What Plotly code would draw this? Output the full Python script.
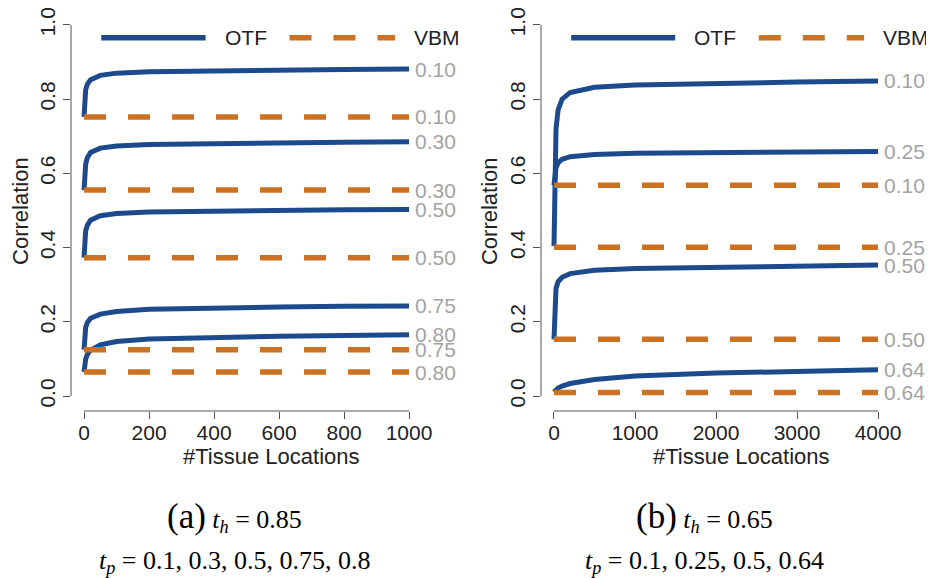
import plotly.graph_objects as go

# ---------------- data ----------------
# Panel (a): t_h = 0.85
x_a = [0, 2, 5, 10, 20, 50, 100, 200, 400, 600, 800, 1000]
tp_a = ["0.10", "0.30", "0.50", "0.75", "0.80"]
otf_a = [
    [0.752, 0.800, 0.825, 0.840, 0.852, 0.864, 0.870, 0.874, 0.877, 0.879, 0.880, 0.881],
    [0.555, 0.600, 0.625, 0.642, 0.656, 0.668, 0.674, 0.678, 0.681, 0.683, 0.684, 0.685],
    [0.373, 0.420, 0.445, 0.460, 0.474, 0.486, 0.492, 0.496, 0.499, 0.501, 0.502, 0.503],
    [0.125, 0.165, 0.185, 0.198, 0.210, 0.221, 0.228, 0.234, 0.238, 0.240, 0.242, 0.243],
    [0.065, 0.085, 0.100, 0.112, 0.124, 0.138, 0.147, 0.154, 0.159, 0.161, 0.163, 0.165],
]
vbm_a = [0.752, 0.555, 0.373, 0.125, 0.065]

# Panel (b): t_h = 0.65
x_b = [0, 10, 25, 50, 100, 200, 500, 1000, 2000, 3000, 4000]
tp_b = ["0.10", "0.25", "0.50", "0.64"]
otf_b = [
    [0.404, 0.620, 0.720, 0.770, 0.800, 0.818, 0.832, 0.838, 0.843, 0.846, 0.849],
    [0.568, 0.600, 0.615, 0.628, 0.638, 0.645, 0.651, 0.654, 0.656, 0.658, 0.659],
    [0.153, 0.260, 0.290, 0.308, 0.320, 0.330, 0.339, 0.344, 0.348, 0.351, 0.353],
    [0.011, 0.014, 0.018, 0.022, 0.027, 0.034, 0.045, 0.054, 0.062, 0.067, 0.071],
]
vbm_b = [0.568, 0.401, 0.153, 0.010]

xticks_a = [0, 200, 400, 600, 800, 1000]
xticks_b = [0, 1000, 2000, 3000, 4000]
yticks = [0.0, 0.2, 0.4, 0.6, 0.8, 1.0]

caption_a = ("(a)", "0.85", "0.1, 0.3, 0.5, 0.75, 0.8")
caption_b = ("(b)", "0.65", "0.1, 0.25, 0.5, 0.64")

# ---------------- style ----------------
BLUE = "#1d4a8c"
ORANGE = "#cc7022"
GRAY = "#a3a3a3"
AXC = "#555555"
TXT = "#222222"
SANS = "Liberation Sans, Arial, sans-serif"
SERIF = "Liberation Serif, Times New Roman, serif"
DASH = "22px,22px"

fig = go.Figure()

panels = [
    dict(x=x_a, otf=otf_a, vbm=vbm_a, tp=tp_a, xa="x", ya="y", xmax=1000),
    dict(x=x_b, otf=otf_b, vbm=vbm_b, tp=tp_b, xa="x2", ya="y2", xmax=4000),
]

annotations = []
shapes = []

for p in panels:
    for ys in p["otf"]:
        fig.add_trace(go.Scatter(x=p["x"], y=ys, mode="lines", xaxis=p["xa"], yaxis=p["ya"],
                                 line=dict(color=BLUE, width=5), showlegend=False, hoverinfo="skip"))
    for v in p["vbm"]:
        fig.add_trace(go.Scatter(x=[0, p["xmax"]], y=[v, v], mode="lines", xaxis=p["xa"], yaxis=p["ya"],
                                 line=dict(color=ORANGE, width=5.5, dash=DASH), showlegend=False, hoverinfo="skip"))
    # right-hand labels
    for lab, ys in zip(p["tp"], p["otf"]):
        annotations.append(dict(x=p["xmax"], y=ys[-1], xref=p["xa"], yref=p["ya"], text=lab, showarrow=False,
                                xanchor="left", xshift=4, font=dict(family=SANS, size=21, color=GRAY)))
    for lab, v in zip(p["tp"], p["vbm"]):
        annotations.append(dict(x=p["xmax"], y=v, xref=p["xa"], yref=p["ya"], text=lab, showarrow=False,
                                xanchor="left", xshift=4, font=dict(family=SANS, size=21, color=GRAY)))
    # axis lines (R style, detached)
    shapes.append(dict(type="line", xref=p["xa"], yref=p["ya"] + " domain",
                       x0=0, x1=p["xmax"], y0=0, y1=0, line=dict(color=AXC, width=1)))
    shapes.append(dict(type="line", xref=p["xa"] + " domain", yref=p["ya"],
                       x0=0, x1=0, y0=0, y1=1, line=dict(color=AXC, width=1)))
    # legend
    s = p["xmax"] / 1000.0
    shapes.append(dict(type="line", xref=p["xa"], yref=p["ya"], x0=53 * s, x1=374 * s, y0=0.965, y1=0.965,
                       line=dict(color=BLUE, width=5.5)))
    shapes.append(dict(type="line", xref=p["xa"], yref=p["ya"], x0=632 * s, x1=957 * s, y0=0.965, y1=0.965,
                       line=dict(color=ORANGE, width=5.5, dash=DASH)))
    annotations.append(dict(x=498 * s, y=0.965, xref=p["xa"], yref=p["ya"], text="OTF", showarrow=False,
                            xanchor="center", font=dict(family=SANS, size=21, color=TXT)))
    annotations.append(dict(x=1010 * s, y=0.965, xref=p["xa"], yref=p["ya"], text="VBM", showarrow=False,
                            xanchor="left", font=dict(family=SANS, size=21, color=TXT)))

# axis titles
for xp in [0.0139, 0.5161]:
    annotations.append(dict(x=xp, y=0.6488, xref="paper", yref="paper", text="Correlation", textangle=-90,
                            xanchor="center", yanchor="middle",
                            showarrow=False, font=dict(family=SANS, size=22, color=TXT)))
for xp in [0.2816, 0.7848]:
    annotations.append(dict(x=xp, y=0.2249, xref="paper", yref="paper", text="#Tissue Locations",
                            xanchor="center", yanchor="middle",
                            showarrow=False, font=dict(family=SANS, size=22, color=TXT)))

# captions
for (lab, th, tp), xc in [(caption_a, 0.2430), (caption_b, 0.7460)]:
    annotations.append(dict(x=xc, y=0.1194, xref="paper", yref="paper", showarrow=False,
                            xanchor="center", yanchor="middle",
                            text=f"<span style='font-size:35px'>{lab}</span> <i>t<sub>h</sub></i> = {th}",
                            font=dict(family=SERIF, size=26, color="#000")))
    annotations.append(dict(x=xc, y=0.0415, xref="paper", yref="paper", showarrow=False,
                            xanchor="center", yanchor="middle",
                            text=f"<i>t<sub>p</sub></i> = {tp}",
                            font=dict(family=SERIF, size=26, color="#000")))

ydom = [0.3028, 0.9965]
common_x = dict(showgrid=False, zeroline=False, showline=False, ticks="outside", ticklen=7, tickcolor=AXC,
                tickfont=dict(family=SANS, size=21, color=TXT), automargin=False, ticklabelstandoff=-4)
common_y = dict(showgrid=False, zeroline=False, showline=False, ticks="outside", ticklen=7, tickcolor=AXC,
                tickfont=dict(family=SANS, size=21, color=TXT), tickangle=-90, tickvals=yticks,
                tickformat=".1f", range=[-0.04, 1.04], automargin=False, domain=ydom,
                ticklabeloverflow="allow")

fig.update_layout(
    width=934, height=578,
    margin=dict(l=0, r=0, t=0, b=0),
    paper_bgcolor="white", plot_bgcolor="white",
    showlegend=False,
    xaxis=dict(common_x, domain=[0.0675, 0.4433], range=[-40, 1040], tickvals=xticks_a, anchor="y",
               ticklabeloverflow="allow"),
    yaxis=dict(common_y, anchor="x"),
    xaxis2=dict(common_x, domain=[0.5707, 0.9454], range=[-160, 4160], tickvals=xticks_b, anchor="y2",
                ticklabeloverflow="allow"),
    yaxis2=dict(common_y, anchor="x2"),
    annotations=annotations,
    shapes=shapes,
)

fig.write_html("out.html")
